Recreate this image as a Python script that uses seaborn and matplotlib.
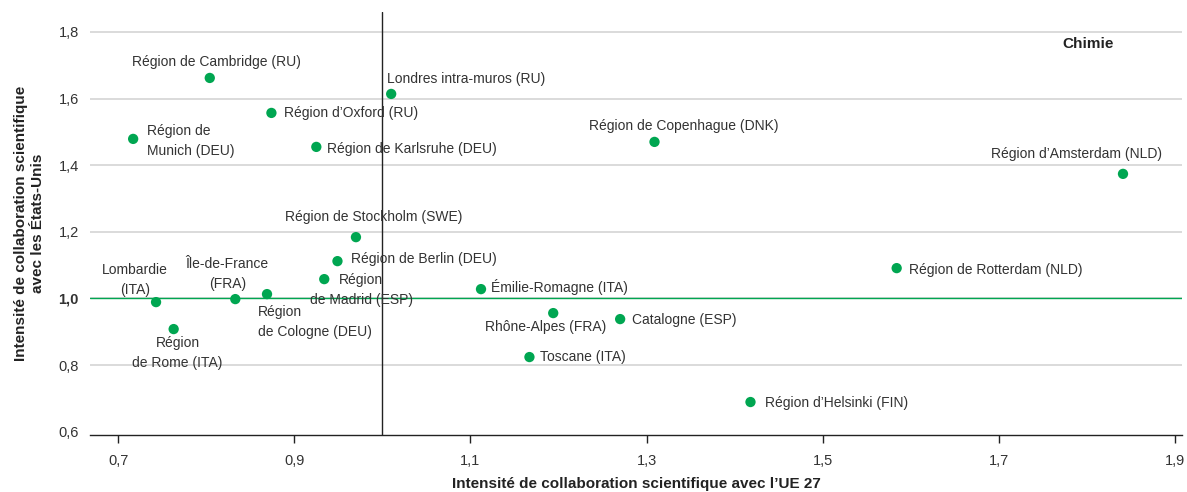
import numpy as np
import pandas as pd
import seaborn as sns
import matplotlib.pyplot as plt

regions = ["Région de Cambridge (RU)", "Londres intra-muros (RU)", "Région d’Oxford (RU)",
           "Région de\nMunich (DEU)", "Région de Karlsruhe (DEU)", "Région de Copenhague (DNK)",
           "Région d’Amsterdam (NLD)", "Région de Stockholm (SWE)", "Région de Berlin (DEU)",
           "Région\nde Madrid (ESP)", "Lombardie\n(ITA)", "Île-de-France\n(FRA)",
           "Région\nde Cologne (DEU)", "Région\nde Rome (ITA)", "Émilie-Romagne (ITA)",
           "Rhône-Alpes (FRA)", "Catalogne (ESP)", "Toscane (ITA)",
           "Région d’Helsinki (FIN)", "Région de Rotterdam (NLD)"]
ue27 = [0.804, 1.010, 0.874, 0.717, 0.925, 1.309, 1.841, 0.970, 0.949, 0.934,
        0.743, 0.833, 0.869, 0.763, 1.112, 1.194, 1.270, 1.167, 1.418, 1.584]
usa = [1.662, 1.614, 1.557, 1.479, 1.455, 1.470, 1.374, 1.184, 1.112, 1.058,
       0.989, 0.998, 1.013, 0.908, 1.028, 0.956, 0.938, 0.824, 0.689, 1.091]

# label placement: (dx px, dy px, ha)
offsets = [(7, 16, "center"), (-4, 15, "left"), (13, 0, "left"), (14, -2, "left"),
           (11, -2, "left"), (29, 16, "center"), (-46, 20, "center"), (18, 20, "center"),
           (14, 2, "left"), (37, -11, "center"), (-21, 22, "center"), (-8, 25, "center"),
           (-9, -28, "left"), (4, -24, "center"), (10, 2, "left"), (-8, -14, "center"),
           (12, -1, "left"), (11, 0, "left"), (15, -1, "left"), (12, -2, "left")]

x_ticks = [0.7, 0.9, 1.1, 1.3, 1.5, 1.7, 1.9]
y_ticks = [0.6, 0.8, 1.0, 1.2, 1.4, 1.6, 1.8]

green = "#00a651"
df = pd.DataFrame({"region": regions, "ue27": ue27, "usa": usa})

sns.set_theme(style="white")
plt.rcParams["font.family"] = ["Liberation Sans", "DejaVu Sans"]

fig = plt.figure(figsize=(11.87, 4.92), dpi=100)
ax = fig.add_axes([90 / 1187, 57 / 492, 1092 / 1187, 423 / 492])

for yt in y_ticks[1:]:
    ax.axhline(yt, color="#d4d4d4", lw=1.2, zorder=0)
ax.axhline(1.0, color=green, lw=1, zorder=1)
ax.axvline(1.0, color="#222222", lw=1, zorder=1)

sns.scatterplot(data=df, x="ue27", y="usa", color=green, s=55, edgecolor="none",
                ax=ax, zorder=3, legend=False)

for name, x, y, (dx, dy, ha) in zip(regions, ue27, usa, offsets):
    ax.annotate(name, (x, y), xytext=(dx, dy), textcoords="offset pixels",
                ha=ha, va="center", fontsize=10, color="#333333",
                multialignment=ha, linespacing=1.55, zorder=4)

ax.text(0.914, 0.924, "Chimie", transform=ax.transAxes, ha="center", va="center",
        fontsize=11, fontweight="bold", color="#222222")

ax.set_xlim(0.668, 1.908)
ax.set_ylim(0.59, 1.86)
ax.set_xticks(x_ticks)
ax.set_xticklabels([f"{v:.1f}".replace(".", ",") for v in x_ticks])
ax.set_yticks(y_ticks)
ax.set_yticklabels([f"{v:.1f}".replace(".", ",") for v in y_ticks])
for lab in ax.get_yticklabels():
    if lab.get_text() == "1,0":
        lab.set_fontweight("bold")

ax.tick_params(axis="x", bottom=True, length=6, width=1, color="#222222", direction="out",
               labelsize=10.5, labelcolor="#333333", pad=8)
ax.tick_params(axis="y", left=False, length=0, labelsize=10.5, labelcolor="#333333", pad=8)

for side in ["top", "right", "left"]:
    ax.spines[side].set_visible(False)
ax.spines["bottom"].set_color("#222222")
ax.spines["bottom"].set_linewidth(1)

ax.set_xlabel("Intensité de collaboration scientifique avec l’UE 27", fontsize=11,
              fontweight="bold", color="#222222", labelpad=6)
ax.set_ylabel("Intensité de collaboration scientifique\navec les États-Unis", fontsize=11,
              fontweight="bold", color="#222222", labelpad=10)

fig.savefig("out.png", dpi=100)
